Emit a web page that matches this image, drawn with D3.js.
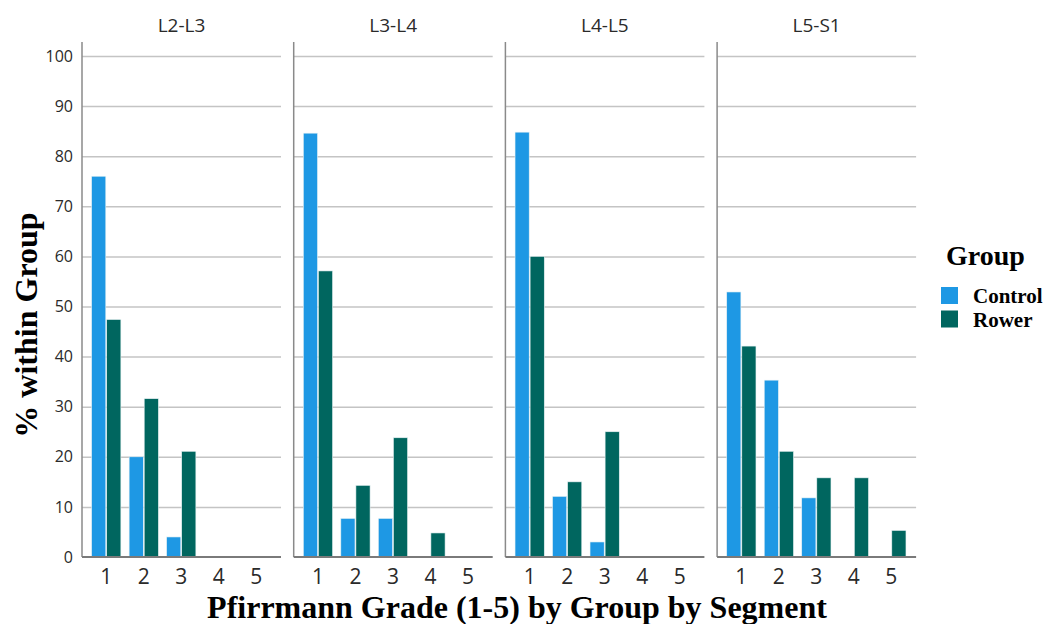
<!DOCTYPE html>
<html>
<head>
<meta charset="utf-8">
<script src="https://cdn.jsdelivr.net/npm/d3@7"></script>
<style>
  body { margin: 0; background: #fff; }
  svg { display: block; }
</style>
</head>
<body>
<div id="root"></div>
<script>
// data
const segments = ['L2-L3', 'L3-L4', 'L4-L5', 'L5-S1'];
const grades = ['1', '2', '3', '4', '5'];
const groups = ['Control', 'Rower'];
const controlPct = [
  [76.0, 20.0, 4.0, 0, 0],
  [84.6, 7.7, 7.7, 0, 0],
  [84.8, 12.1, 3.0, 0, 0],
  [52.9, 35.3, 11.8, 0, 0]
];
const rowerPct = [
  [47.4, 31.6, 21.1, 0, 0],
  [57.1, 14.3, 23.8, 4.8, 0],
  [60.0, 15.0, 25.0, 0, 0],
  [42.1, 21.1, 15.8, 15.8, 5.3]
];
const yTicks = [0, 10, 20, 30, 40, 50, 60, 70, 80, 90, 100];

const w = 1046;
const h = 624;
const colors = { Control: '#1e98e4', Rower: '#00665f' };

const svg = d3.select('#root')
  .append('svg')
  .attr('width', w)
  .attr('height', h);

const panelScale = d3.scaleBand()
  .domain(segments)
  .range([82, 916.1])
  .paddingInner(0.06);
const pw = panelScale.bandwidth();

const yScale = d3.scaleLinear()
  .domain([0, 100])
  .range([557, 56]);

const xScale = d3.scaleBand()
  .domain(grades)
  .range([5.5, 193])
  .paddingInner(0.22)
  .paddingOuter(0.11);

const gScale = d3.scaleBand()
  .domain(groups)
  .range([0, xScale.bandwidth()])
  .paddingInner(0.06);

segments.forEach((seg, si) => {
  const g = svg.append('g')
    .attr('transform', `translate(${panelScale(seg)}, 0)`);

  // gridlines
  const grid = g.append('g')
    .call(d3.axisLeft(yScale).tickValues(yTicks.slice(1)).tickSize(-pw).tickFormat(''));
  grid.select('.domain').remove();
  grid.selectAll('line').attr('stroke', '#c4c4c4').attr('stroke-width', 1.5);

  // bars
  const rows = grades.map((gr, i) => ({ grade: gr, Control: controlPct[si][i], Rower: rowerPct[si][i] }));
  g.selectAll('g.grade')
    .data(rows)
    .enter()
    .append('g')
    .attr('class', 'grade')
    .attr('transform', d => `translate(${xScale(d.grade)}, 0)`)
    .selectAll('rect')
    .data(d => groups.map(k => ({ key: k, value: d[k] })).filter(e => e.value > 0))
    .enter()
    .append('rect')
    .attr('x', d => gScale(d.key))
    .attr('y', d => yScale(d.value))
    .attr('width', gScale.bandwidth())
    .attr('height', d => yScale(0) - yScale(d.value))
    .attr('fill', d => colors[d.key])
    .attr('stroke', '#e8f2f4')
    .attr('stroke-width', 0.6);

  // left vertical line
  g.append('line')
    .attr('x1', 0).attr('x2', 0)
    .attr('y1', 42).attr('y2', yScale(0))
    .attr('stroke', '#8a8a8a')
    .attr('stroke-width', 1.5);

  // x axis
  const xa = g.append('g')
    .attr('transform', `translate(0, ${yScale(0)})`)
    .call(d3.axisBottom(xScale).tickSize(0).tickPadding(12));
  xa.select('.domain').attr('d', `M0,0H${pw}`).attr('stroke', '#7a7a7a').attr('stroke-width', 1.8);
  xa.selectAll('text')
    .attr('fill', '#2a2a2a')
    .style('font-family', '"Open Sans", sans-serif')
    .style('font-size', '21px');

  // panel title
  g.append('text')
    .attr('x', pw / 2)
    .attr('y', 32)
    .attr('text-anchor', 'middle')
    .attr('fill', '#2a2a2a')
    .style('font-family', '"Open Sans", sans-serif')
    .style('font-size', '19px')
    .text(seg);

  // y axis labels on first panel
  if (si === 0) {
    const ya = g.append('g')
      .call(d3.axisLeft(yScale).tickValues(yTicks).tickSize(0).tickPadding(9));
    ya.select('.domain').remove();
    ya.selectAll('text')
      .attr('fill', '#2a2a2a')
      .style('font-family', '"Open Sans", sans-serif')
      .style('font-size', '16px');
  }
});

// axis titles
svg.append('text')
  .attr('transform', 'translate(37, 325) rotate(-90)')
  .attr('text-anchor', 'middle')
  .style('font-family', '"Liberation Serif", "Times New Roman", serif')
  .style('font-weight', 'bold')
  .style('font-size', '32px')
  .text('% within Group');

svg.append('text')
  .attr('x', 517)
  .attr('y', 618)
  .attr('text-anchor', 'middle')
  .style('font-family', '"Liberation Serif", "Times New Roman", serif')
  .style('font-weight', 'bold')
  .style('font-size', '32px')
  .text('Pfirrmann Grade (1-5) by Group by Segment');

// legend
const legend = svg.append('g').attr('transform', 'translate(946, 0)');
legend.append('text')
  .attr('x', 0)
  .attr('y', 265)
  .style('font-family', '"Liberation Serif", "Times New Roman", serif')
  .style('font-weight', 'bold')
  .style('font-size', '28px')
  .text('Group');
groups.forEach((k, i) => {
  legend.append('rect')
    .attr('x', -5)
    .attr('y', 287 + i * 23.5)
    .attr('width', 17)
    .attr('height', 17)
    .attr('fill', colors[k]);
  legend.append('text')
    .attr('x', 27)
    .attr('y', 303 + i * 23.5)
    .style('font-family', '"Liberation Serif", "Times New Roman", serif')
    .style('font-weight', 'bold')
    .style('font-size', '21px')
    .text(k);
});
</script>
</body>
</html>
